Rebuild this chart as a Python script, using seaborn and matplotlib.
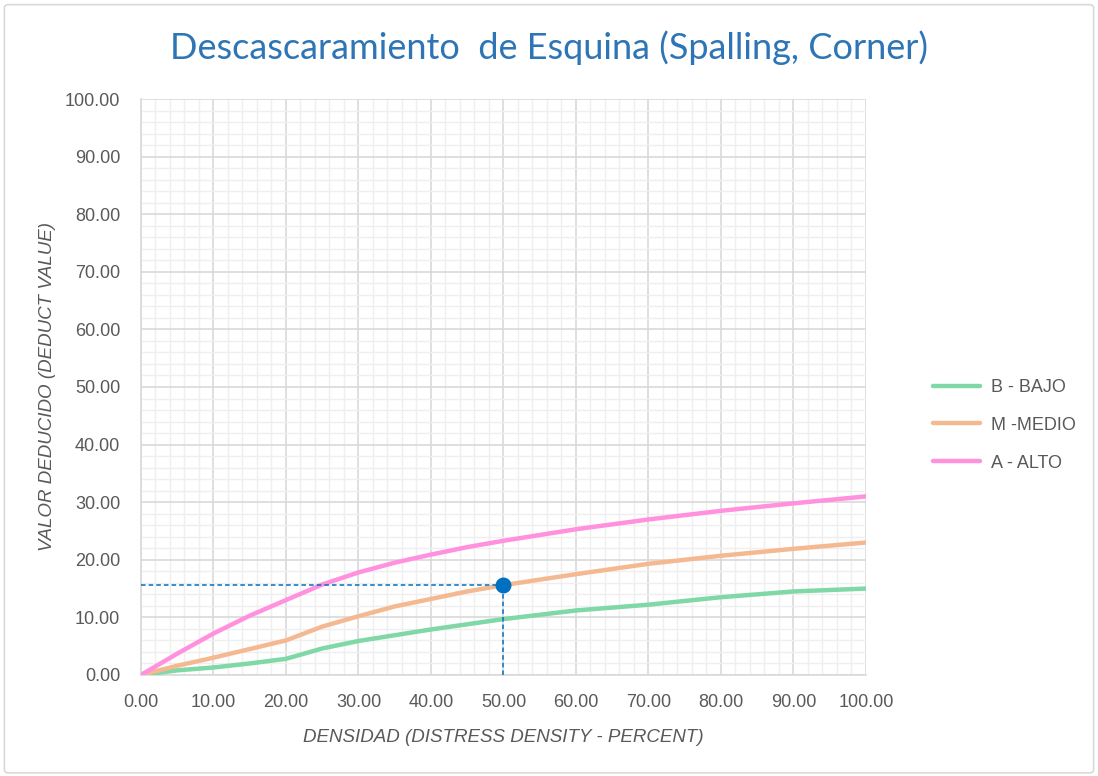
import numpy as np
import pandas as pd
import matplotlib
matplotlib.use("Agg")
import matplotlib.pyplot as plt
from matplotlib.ticker import MultipleLocator, FormatStrFormatter
from matplotlib.patches import FancyBboxPatch
from matplotlib.lines import Line2D
import seaborn as sns

# Distress density (%) and deduct values per severity level
density = [0, 5, 10, 15, 20, 25, 30, 35, 40, 45, 50, 60, 70, 80, 90, 100]
bajo = [0.0, 0.8, 1.3, 2.0, 2.8, 4.6, 5.9, 6.9, 7.9, 8.8, 9.7, 11.2, 12.2, 13.5, 14.5, 15.0]
medio = [0.0, 1.6, 3.0, 4.5, 6.0, 8.4, 10.2, 11.9, 13.2, 14.5, 15.6, 17.5, 19.3, 20.7, 21.9, 23.0]
alto = [0.0, 3.7, 7.2, 10.3, 13.0, 15.7, 17.8, 19.5, 20.9, 22.2, 23.3, 25.3, 27.0, 28.5, 29.8, 31.0]
series_names = ["B - BAJO", "M -MEDIO", "A - ALTO"]
series_colors = ["#7fd8a5", "#f5b992", "#ff91df"]

# Reading point on the medium curve
read_x = 50.0
read_y = 15.6

df = pd.concat([
    pd.DataFrame({"x": density, "y": vals, "serie": name})
    for name, vals in zip(series_names, [bajo, medio, alto])
])

sns.set_theme(style="white")
plt.rcParams["font.family"] = ["Liberation Sans", "DejaVu Sans"]

fig = plt.figure(figsize=(10.98, 7.76), dpi=100)
ax = fig.add_axes([0.1284, 0.1302, 0.6603, 0.7422])

# Outer chart border
fig.patches.append(FancyBboxPatch((0.004, 0.004), 0.992, 0.990,
                                  boxstyle="round,pad=0,rounding_size=0.004",
                                  transform=fig.transFigure, fill=False,
                                  edgecolor="#d9d9d9", linewidth=1.2))

sns.lineplot(data=df, x="x", y="y", hue="serie", hue_order=series_names,
             palette=series_colors, linewidth=3.2, ax=ax, legend=False,
             sort=False, zorder=3)
for line in ax.get_lines():
    line.set_solid_joinstyle("round")
    line.set_solid_capstyle("round")

# Dashed guides and point
ax.plot([0, read_x], [read_y, read_y], color="#0070c0", ls=(0, (3, 2)), lw=1.1, zorder=4)
ax.plot([read_x, read_x], [0, read_y], color="#0070c0", ls=(0, (3, 2)), lw=1.1, zorder=4)
ax.scatter([read_x], [read_y], s=110, color="#0070c0", zorder=5)

ax.set_xlim(0, 100)
ax.set_ylim(0, 100)
ax.xaxis.set_major_locator(MultipleLocator(10))
ax.yaxis.set_major_locator(MultipleLocator(10))
ax.xaxis.set_minor_locator(MultipleLocator(2))
ax.yaxis.set_minor_locator(MultipleLocator(2))
ax.xaxis.set_major_formatter(FormatStrFormatter("%.2f"))
ax.yaxis.set_major_formatter(FormatStrFormatter("%.2f"))
ax.grid(which="major", color="#d9d9d9", linewidth=1.2, zorder=1)
ax.grid(which="minor", color="#efefef", linewidth=1.0, zorder=0)
ax.set_axisbelow(True)
for side in ["top", "right"]:
    ax.spines[side].set_visible(False)
for side in ["left", "bottom"]:
    ax.spines[side].set_color("#d9d9d9")
    ax.spines[side].set_linewidth(1.2)
ax.tick_params(axis="both", which="both", length=0, labelsize=13,
               labelcolor="#595959")
ax.tick_params(axis="y", pad=15)
ax.tick_params(axis="x", pad=14)

ax.set_xlabel("DENSIDAD (DISTRESS DENSITY - PERCENT)", fontsize=13.5, style="italic",
              color="#595959", labelpad=13)
ax.set_ylabel("VALOR DEDUCIDO (DEDUCT VALUE)", fontsize=13.5, style="italic",
              color="#595959", labelpad=6)

fig.text(0.5, 0.939, "Descascaramiento  de Esquina (Spalling, Corner)",
         ha="center", va="center", fontsize=26, color="#2e75b6",
         family=["Lato", "DejaVu Sans"])

# Legend
handles = [Line2D([0], [0], color=c, lw=3.2) for c in series_colors]
fig.legend(handles, series_names, loc="center left", bbox_to_anchor=(0.835, 0.452),
           frameon=False, fontsize=13, labelcolor="#595959", handlelength=2.6,
           labelspacing=1.15, handletextpad=0.6)

fig.savefig("out.png", dpi=100, facecolor="white")
